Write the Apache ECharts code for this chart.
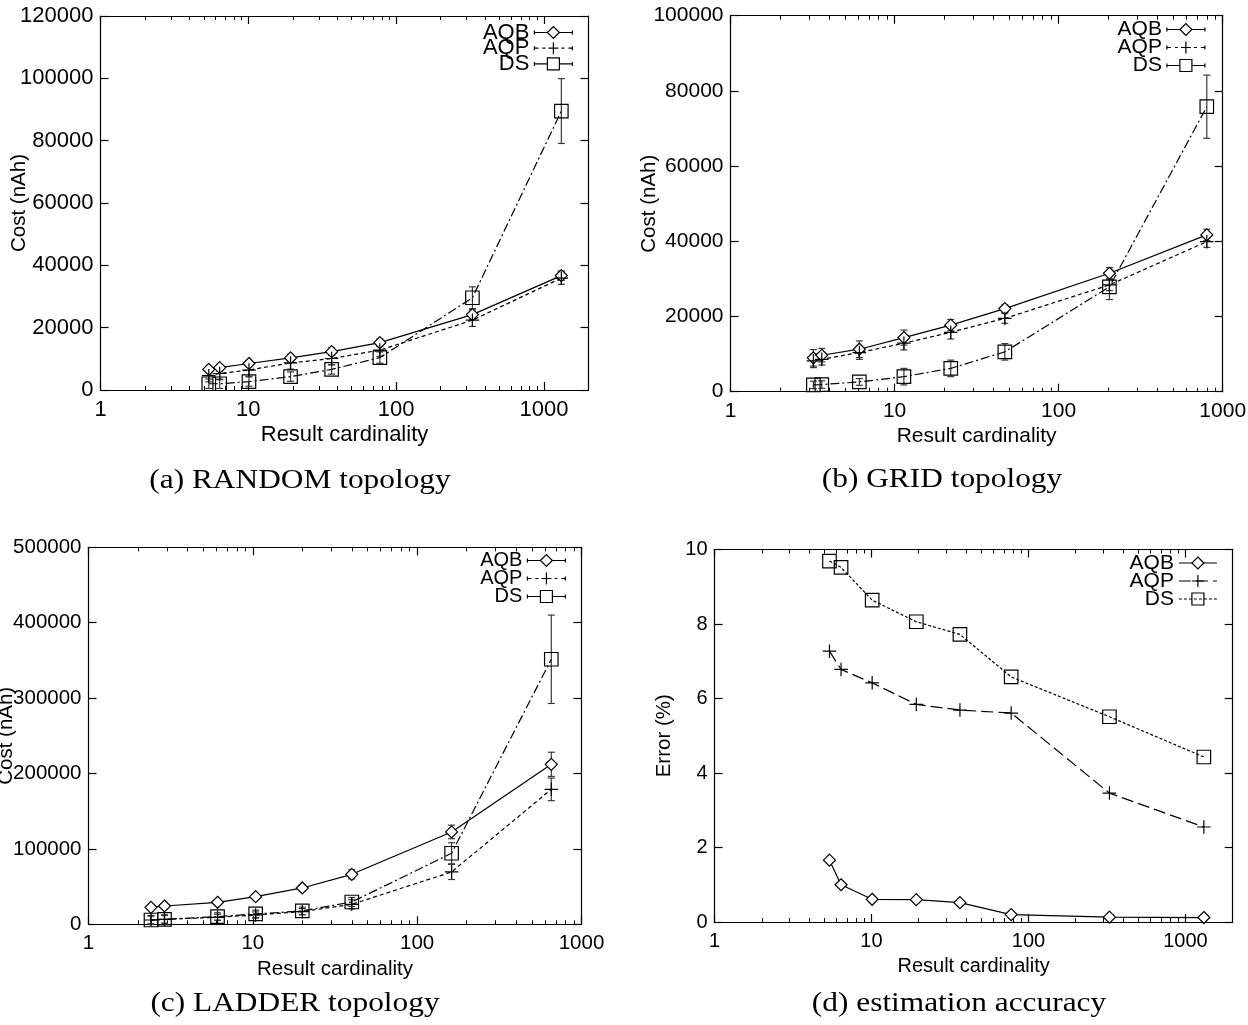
<!DOCTYPE html>
<html><head><meta charset="utf-8">
<script src="https://cdn.jsdelivr.net/npm/echarts@6/dist/echarts.min.js"></script>
<style>html,body{margin:0;padding:0;background:#fff}#c{width:1248px;height:1025px}</style>
</head><body><div id="c"></div>
<script>
// ---------- data ----------
const seriesNames = ['AQB', 'AQP', 'DS'];
const xMajor = [1, 10, 100, 1000];
const xMinor = [2,3,4,5,6,7,8,9,20,30,40,50,60,70,80,90,200,300,400,500,600,700,800,900];

const xRandom = [5.4, 6.4, 10.1, 19.3, 36.6, 77.6, 328, 1310];
const xGrid = [3.2, 3.6, 6.1, 11.4, 22, 47, 204, 800];
const xLadder = [2.4, 2.9, 6.1, 10.4, 20, 40, 162, 655];

const randomAQB = [6600, 7200, 8500, 10300, 12300, 15200, 24200, 36700];
const randomAQP = [4600, 5300, 6400, 8700, 10100, 12800, 22400, 35900];
const randomDS = [2000, 2000, 2700, 4300, 6600, 10400, 29600, 89500];
const randomAQBErr = [1000, 1000, 1000, 1200, 1200, 1200, 1500, 1500];
const randomAQPErr = [2000, 2000, 2000, 2000, 2000, 2000, 2000, 2000];
const randomDSErr = [1500, 1500, 1500, 1500, 1500, 1800, 3500, 10400];

const gridAQB = [9000, 9700, 11300, 14400, 17700, 22100, 31500, 41700];
const gridAQP = [8200, 8600, 10400, 12900, 15800, 19500, 28400, 39900];
const gridDS = [1800, 1900, 2600, 4000, 6200, 10600, 27900, 75800];
const gridAQBErr = [2200, 1800, 2200, 2000, 1500, 1000, 1500, 1500];
const gridAQPErr = [1800, 1500, 1800, 1800, 1800, 1300, 1500, 1500];
const gridDSErr = [1000, 1000, 900, 2200, 2200, 2200, 3400, 8400];

const ladderAQB = [22500, 24300, 29200, 36700, 48200, 66300, 122500, 212200];
const ladderAQP = [5700, 6600, 9300, 12400, 16800, 26500, 69400, 179000];
const ladderDS = [5700, 6600, 10200, 13700, 17700, 29600, 94200, 351500];
const ladderAQBErr = [3000, 3000, 3000, 3000, 4000, 6000, 9000, 16000];
const ladderAQPErr = [6000, 6000, 4000, 4000, 4000, 6000, 10000, 15000];
const ladderDSErr = [5000, 5000, 5000, 5000, 5000, 6000, 14000, 58600];

const accAQB = [1.66, 1.0, 0.61, 0.60, 0.52, 0.20, 0.13, 0.12];
const accAQP = [7.27, 6.78, 6.42, 5.84, 5.69, 5.61, 3.46, 2.55];
const accDS = [9.69, 9.52, 8.64, 8.06, 7.72, 6.58, 5.51, 4.43];

const captions = ['(a) RANDOM topology', '(b) GRID topology', '(c) LADDER topology', '(d) estimation accuracy'];
const xTitle = 'Result cardinality';
const yTitles = ['Cost (nAh)', 'Cost (nAh)', 'Cost (nAh)', 'Error (%)'];

// ---------- layout / style ----------
const SANS = '"Liberation Sans", Arial, Helvetica, sans-serif';
const SERIF = '"Liberation Serif", "Times New Roman", serif';
const PLUS = 'path://M0,5L10,5M5,0L5,10';
const symbols = ['diamond', PLUS, 'rect'];
const dashABC = ['solid', [4, 3], [9, 3, 2, 3]];
const dashD = ['solid', [12, 5], [3, 2]];
// legend icons with error-bar caps (gnuplot yerrorlines style key)
const CAPS = 'M0,4L0,8M38,4L38,8';
const errIcons = [
  'path://' + CAPS + 'M0,6L13,6M25,6L38,6M13,6L19,0L25,6L19,12Z',
  'path://' + CAPS + 'M0,6L4,6M8,6L11,6M14,6L24,6M27,6L30,6M34,6L38,6M19,0L19,12',
  'path://' + CAPS + 'M0,6L13,6M25,6L38,6M13,0L25,0L25,12L13,12Z'
];

const panels = [
  { key: 'a', grid: { left: 100.5, top: 16, width: 488, height: 374 }, xMax: 2000, yMax: 120000, yInt: 20000,
    x: xRandom, ys: [randomAQB, randomAQP, randomDS], errs: [randomAQBErr, randomAQPErr, randomDSErr], dash: dashABC,
    fs: 22, nameGapY: 71, nameGapX: 34, legend: { right: 675, top: 21.5, gap: -6.3, fs: 22 }, cap: [300, 481] },
  { key: 'b', grid: { left: 730.5, top: 15.7, width: 492.2, height: 376 }, xMax: 1000, yMax: 100000, yInt: 20000,
    x: xGrid, ys: [gridAQB, gridAQP, gridDS], errs: [gridAQBErr, gridAQPErr, gridDSErr], dash: dashABC,
    fs: 21, nameGapY: 71, nameGapX: 34, legend: { right: 42.5, top: 19, gap: -3, fs: 21 }, cap: [942, 480] },
  { key: 'c', grid: { left: 88.5, top: 547.3, width: 493, height: 377 }, xMax: 1000, yMax: 500000, yInt: 100000,
    x: xLadder, ys: [ladderAQB, ladderAQP, ladderDS], errs: [ladderAQBErr, ladderAQPErr, ladderDSErr], dash: dashABC,
    fs: 20.5, nameGapY: 72, nameGapX: 35, legend: { right: 682, top: 550.5, gap: -2, fs: 20 }, cap: [295, 1004] },
  { key: 'd', grid: { left: 714.5, top: 549.5, width: 518.2, height: 372.5 }, xMax: 2000, yMax: 10, yInt: 2,
    x: xRandom, ys: [accAQB, accAQP, accDS], errs: null, dash: dashD,
    fs: 20, nameGapY: 40, nameGapX: 34, legend: { right: 30.5, top: 552.5, gap: -3, fs: 21 }, cap: [959, 1004] }
];

const option = {
  animation: false,
  backgroundColor: '#fff',
  grid: [], xAxis: [], yAxis: [], series: [], legend: [], graphic: []
};

const AX = { show: true, lineStyle: { color: '#000', width: 1.2 } };

panels.forEach((p, gi) => {
  option.grid.push(Object.assign({ containLabel: false, outerBoundsMode: 'none' }, p.grid));
  const xBase = { gridIndex: gi, type: 'log', logBase: 10, min: 1, max: p.xMax, splitLine: { show: false } };
  const minor = xMinor.filter(v => v < p.xMax);
  const xi = option.xAxis.length;
  option.xAxis.push(Object.assign({}, xBase, {
    position: 'bottom', axisLine: AX,
    axisTick: { show: true, inside: true, length: 8, customValues: xMajor, lineStyle: { color: '#000', width: 1.2 } },
    axisLabel: { show: true, customValues: xMajor, margin: 9, color: '#000', fontFamily: SANS, fontSize: p.fs, formatter: v => String(Math.round(v)) },
    name: xTitle, nameLocation: 'middle', nameGap: p.nameGapX, nameMoveOverlap: false,
    nameTextStyle: { color: '#000', fontFamily: SANS, fontSize: p.fs }
  }));
  option.xAxis.push(Object.assign({}, xBase, {
    position: 'bottom', axisLine: { show: false },
    axisTick: { show: true, inside: true, length: 4, customValues: minor, lineStyle: { color: '#000', width: 1 } },
    axisLabel: { show: false }
  }));
  option.xAxis.push(Object.assign({}, xBase, {
    position: 'top', axisLine: AX,
    axisTick: { show: true, inside: true, length: 8, customValues: xMajor, lineStyle: { color: '#000', width: 1.2 } },
    axisLabel: { show: false }
  }));
  option.xAxis.push(Object.assign({}, xBase, {
    position: 'top', axisLine: { show: false },
    axisTick: { show: true, inside: true, length: 4, customValues: minor, lineStyle: { color: '#000', width: 1 } },
    axisLabel: { show: false }
  }));
  const yi = option.yAxis.length;
  option.yAxis.push({
    gridIndex: gi, type: 'value', min: 0, max: p.yMax, interval: p.yInt, position: 'left',
    axisLine: AX, splitLine: { show: false },
    axisTick: { show: true, inside: true, length: 8, lineStyle: { color: '#000', width: 1.2 } },
    axisLabel: { show: true, margin: 7, color: '#000', fontFamily: SANS, fontSize: p.fs, formatter: v => String(v) },
    name: yTitles[gi], nameLocation: 'middle', nameGap: p.nameGapY, nameRotate: 90, nameMoveOverlap: false,
    nameTextStyle: { color: '#000', fontFamily: SANS, fontSize: 20.5 }
  });
  option.yAxis.push({
    gridIndex: gi, type: 'value', min: 0, max: p.yMax, interval: p.yInt, position: 'right',
    axisLine: AX, splitLine: { show: false },
    axisTick: { show: true, inside: true, length: 8, lineStyle: { color: '#000', width: 1.2 } },
    axisLabel: { show: false }
  });

  const legendData = [];
  seriesNames.forEach((nm, si) => {
    const full = nm + '|' + p.key;
    const ys = p.ys[si];
    const isDiamond = symbols[si] === 'diamond';
    if (p.errs) {
      const err = p.errs[si];
      option.series.push({
        type: 'custom', name: 'err-' + full, xAxisIndex: xi, yAxisIndex: yi, silent: true, clip: false, z: 1,
        data: p.x.map((v, i) => [v, ys[i] - err[i], ys[i] + err[i]]),
        encode: { x: 0, y: [1, 2] },
        renderItem: (params, api) => {
          const xv = api.value(0);
          const lo = api.coord([xv, api.value(1)]);
          const hi = api.coord([xv, api.value(2)]);
          const st = { stroke: '#3a3a3a', lineWidth: 1.2 };
          const c = 3.5;
          return { type: 'group', children: [
            { type: 'line', shape: { x1: lo[0], y1: lo[1], x2: hi[0], y2: hi[1] }, style: st },
            { type: 'line', shape: { x1: lo[0] - c, y1: lo[1], x2: lo[0] + c, y2: lo[1] }, style: st },
            { type: 'line', shape: { x1: hi[0] - c, y1: hi[1], x2: hi[0] + c, y2: hi[1] }, style: st }
          ] };
        }
      });
    }
    option.series.push({
      type: 'line', name: full, xAxisIndex: xi, yAxisIndex: yi, z: 3,
      data: p.x.map((v, i) => [v, ys[i]]),
      symbol: symbols[si], symbolSize: isDiamond ? 12 : 13.5,
      showSymbol: true, clip: false,
      lineStyle: { color: '#000', width: 1.2, type: p.dash[si] },
      itemStyle: { color: isDiamond ? '#fff' : 'rgba(255,255,255,0)', borderColor: '#000', borderWidth: 1.2 },
      emphasis: { disabled: true }
    });
    const item = {
      name: full,
      lineStyle: { color: '#000', width: 1.2, type: p.dash[si] },
      itemStyle: { color: isDiamond ? '#fff' : 'rgba(255,255,255,0)', borderColor: '#000', borderWidth: 1.2 }
    };
    if (p.errs) item.icon = errIcons[si];
    legendData.push(item);
  });
  option.legend.push({
    orient: 'vertical', right: p.legend.right, top: p.legend.top, align: 'right',
    itemWidth: 38, itemHeight: p.errs ? 12 : 15, itemGap: p.legend.gap, padding: 0, selectedMode: false,
    data: legendData, formatter: n => n.split('|')[0],
    textStyle: { color: '#000', fontFamily: SANS, fontSize: p.legend.fs }
  });
  option.graphic.push({
    type: 'text', x: p.cap[0], y: p.cap[1], scaleX: 1.12, originX: 0, originY: 0,
    style: { text: captions[gi], fill: '#000', font: '28px ' + SERIF, align: 'center', verticalAlign: 'middle' }
  });
});

const chart = echarts.init(document.getElementById('c'), null, { renderer: 'canvas' });
chart.setOption(option);
</script>
</body></html>
